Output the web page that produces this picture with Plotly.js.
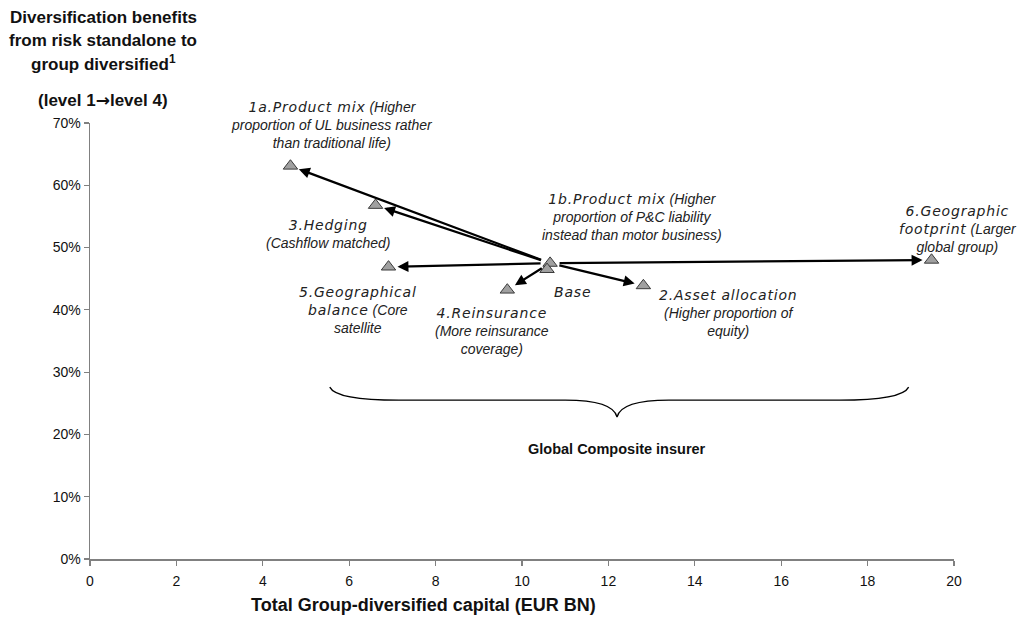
<!DOCTYPE html>
<html>
<head>
<meta charset="utf-8">
<script src="https://cdn.plot.ly/plotly-3.0.1.min.js"></script>
<style>
  html, body { margin: 0; padding: 0; background: #ffffff; }
  #chart { width: 1018px; height: 619px; }
</style>
</head>
<body>
<div id="chart"></div>
<script>
// Scenario points: total group-diversified capital (EUR bn) vs. diversification benefit (%)
const scenarios  = ['Base', '1a', '1b', '2', '3', '4', '5', '6'];
const capitalBn  = [10.65, 4.64, 10.58, 12.81, 6.61, 9.66, 6.91, 19.48];
const benefitPct = [47.5, 63.1, 46.5, 43.9, 56.8, 43.2, 46.9, 48.0];

// Scenarios reached from the base case by an arrow
const arrowTargets = ['1a', '2', '3', '4', '5', '6'];

// Label lines per scenario: each segment is [text, usesWideFace]
const labelLines = {
  'Base': [[['Base', true]]],
  '1a': [[['1a.Product mix', true], [' (Higher', false]],
         [['proportion of UL business rather', false]],
         [['than traditional life)', false]]],
  '1b': [[['1b.Product mix', true], [' (Higher', false]],
         [['proportion of P&amp;C liability', false]],
         [['instead than motor business)', false]]],
  '2':  [[['2.Asset allocation', true]],
         [['(Higher proportion of', false]],
         [['equity)', false]]],
  '3':  [[['3.Hedging', true]],
         [['(Cashflow matched)', false]]],
  '4':  [[['4.Reinsurance', true]],
         [['(More reinsurance', false]],
         [['coverage)', false]]],
  '5':  [[['5.Geographical', true]],
         [['balance', true], [' (Core', false]],
         [['satellite', false]]],
  '6':  [[['6.Geographic', true]],
         [['footprint', true], [' (Larger', false]],
         [['global group)', false]]]
};

const xTickVals = [0, 2, 4, 6, 8, 10, 12, 14, 16, 18, 20];
const yTickVals = [0, 10, 20, 30, 40, 50, 60, 70];

const yTitleLines = ['Diversification benefits', 'from risk standalone to', 'group diversified<sup>1</sup>'];
const yTitleLevel = '(level 1<span style="font-family:DejaVu Sans">\u2192</span>level 4)';
const xTitleText = 'Total Group-diversified capital (EUR BN)';
const groupText = 'Global Composite insurer';

// ---- layout geometry ----
const W = 1018, H = 619;
const M = { l: 90, r: 64, t: 123, b: 60 };
const plotW = W - M.l - M.r, plotH = H - M.t - M.b;
const paperX = px => (px - M.l) / plotW;
const paperY = py => (H - M.b - py) / plotH;

const SANS = 'Liberation Sans, Arial, sans-serif';
const WIDE = 'DejaVu Sans, Verdana, sans-serif';

// Label placement (pixel offsets from each point)
const labelShift = {
  'Base': [22, -29], '1a': [42, 41], '1b': [85, 52], '2': [85, -27],
  '3': [-47, -29], '4': [-15, -41], '5': [-31, -43], '6': [26, 31]
};

function buildLabel(lines) {
  return lines.map(line => line.map(([t, wide]) =>
    wide ? '<span style="font-family:' + WIDE + ';letter-spacing:0.8px">' + t + '</span>' : t
  ).join('')).join('<br>');
}

const idx = name => scenarios.indexOf(name);
const baseI = idx('Base');

const annotations = [];

// arrows from the base case to each scenario
arrowTargets.forEach(name => {
  const i = idx(name);
  annotations.push({
    x: capitalBn[i], y: benefitPct[i], xref: 'x', yref: 'y',
    ax: capitalBn[baseI], ay: benefitPct[baseI], axref: 'x', ayref: 'y',
    text: '', showarrow: true, arrowhead: 2, arrowsize: 0.95, arrowwidth: 2.3,
    arrowcolor: '#000000', standoff: 9, startstandoff: 8
  });
});

// scenario labels
scenarios.forEach((name, i) => {
  const [dx, dy] = labelShift[name];
  annotations.push({
    x: capitalBn[i], y: benefitPct[i], xref: 'x', yref: 'y',
    xshift: dx, yshift: dy, xanchor: 'center', yanchor: 'middle',
    align: 'center', showarrow: false,
    text: buildLabel(labelLines[name]),
    font: { family: SANS, size: 14, color: '#222222', style: 'italic' }
  });
});

// y-axis title block (top left)
const yTitleY = [18, 41, 63];
yTitleLines.forEach((t, k) => {
  annotations.push({
    x: paperX(103), y: paperY(yTitleY[k]), xref: 'paper', yref: 'paper',
    xanchor: 'center', yanchor: 'middle', showarrow: false, text: t,
    font: { family: SANS, size: 17, color: '#111111', weight: 'bold' }
  });
});
annotations.push({
  x: paperX(103), y: paperY(100), xref: 'paper', yref: 'paper',
  xanchor: 'center', yanchor: 'middle', showarrow: false, text: yTitleLevel,
  font: { family: SANS, size: 17, color: '#111111', weight: 'bold' }
});

// x-axis title
annotations.push({
  x: paperX(423), y: paperY(605), xref: 'paper', yref: 'paper',
  xanchor: 'center', yanchor: 'middle', showarrow: false, text: xTitleText,
  font: { family: SANS, size: 18, color: '#111111', weight: 'bold' }
});

// brace grouping the scenarios
const br = { x0: 5.55, x1: 18.95, xm: 12.2, yTop: 27.6, yMid: 25.5, yTip: 22.8 };
const bracePath =
  'M ' + br.x0 + ',' + br.yTop +
  ' Q ' + (br.x0 + 0.15) + ',' + br.yMid + ' ' + (br.x0 + 1.6) + ',' + br.yMid +
  ' L ' + (br.xm - 1.2) + ',' + br.yMid +
  ' Q ' + (br.xm - 0.1) + ',' + br.yMid + ' ' + br.xm + ',' + br.yTip +
  ' Q ' + (br.xm + 0.1) + ',' + br.yMid + ' ' + (br.xm + 1.2) + ',' + br.yMid +
  ' L ' + (br.x1 - 1.6) + ',' + br.yMid +
  ' Q ' + (br.x1 - 0.15) + ',' + br.yMid + ' ' + br.x1 + ',' + br.yTop;

annotations.push({
  x: br.xm, y: 17.7, xref: 'x', yref: 'y', xanchor: 'center', yanchor: 'middle',
  showarrow: false, text: groupText,
  font: { family: SANS, size: 14.5, color: '#111111', weight: 'bold' }
});

const trace = {
  type: 'scatter', mode: 'markers',
  x: capitalBn, y: benefitPct, text: scenarios,
  cliponaxis: false, hoverinfo: 'text',
  marker: { symbol: 'triangle-up', size: 12.5, color: '#A0A0A0',
            line: { color: '#3A3A3A', width: 1 } }
};

const axisCommon = {
  showgrid: false, zeroline: false, showline: true,
  linecolor: '#808080', linewidth: 1.5,
  ticks: 'outside', ticklen: 5, tickwidth: 1.2, tickcolor: '#808080',
  tickfont: { family: SANS, size: 14, color: '#111111' }
};

const layout = {
  width: W, height: H,
  margin: M,
  paper_bgcolor: '#ffffff', plot_bgcolor: '#ffffff',
  showlegend: false,
  xaxis: Object.assign({}, axisCommon, {
    range: [0, 20], tickmode: 'array', tickvals: xTickVals,
    ticktext: xTickVals.map(String), ticklabelstandoff: 4
  }),
  yaxis: Object.assign({}, axisCommon, {
    range: [0, 70], tickmode: 'array', tickvals: yTickVals,
    ticktext: yTickVals.map(v => v + '%')
  }),
  shapes: [{ type: 'path', xref: 'x', yref: 'y', path: bracePath,
             line: { color: '#000000', width: 1.3 } }],
  annotations: annotations
};

Plotly.newPlot('chart', [trace], layout, { displayModeBar: false, staticPlot: true });
</script>
</body>
</html>
